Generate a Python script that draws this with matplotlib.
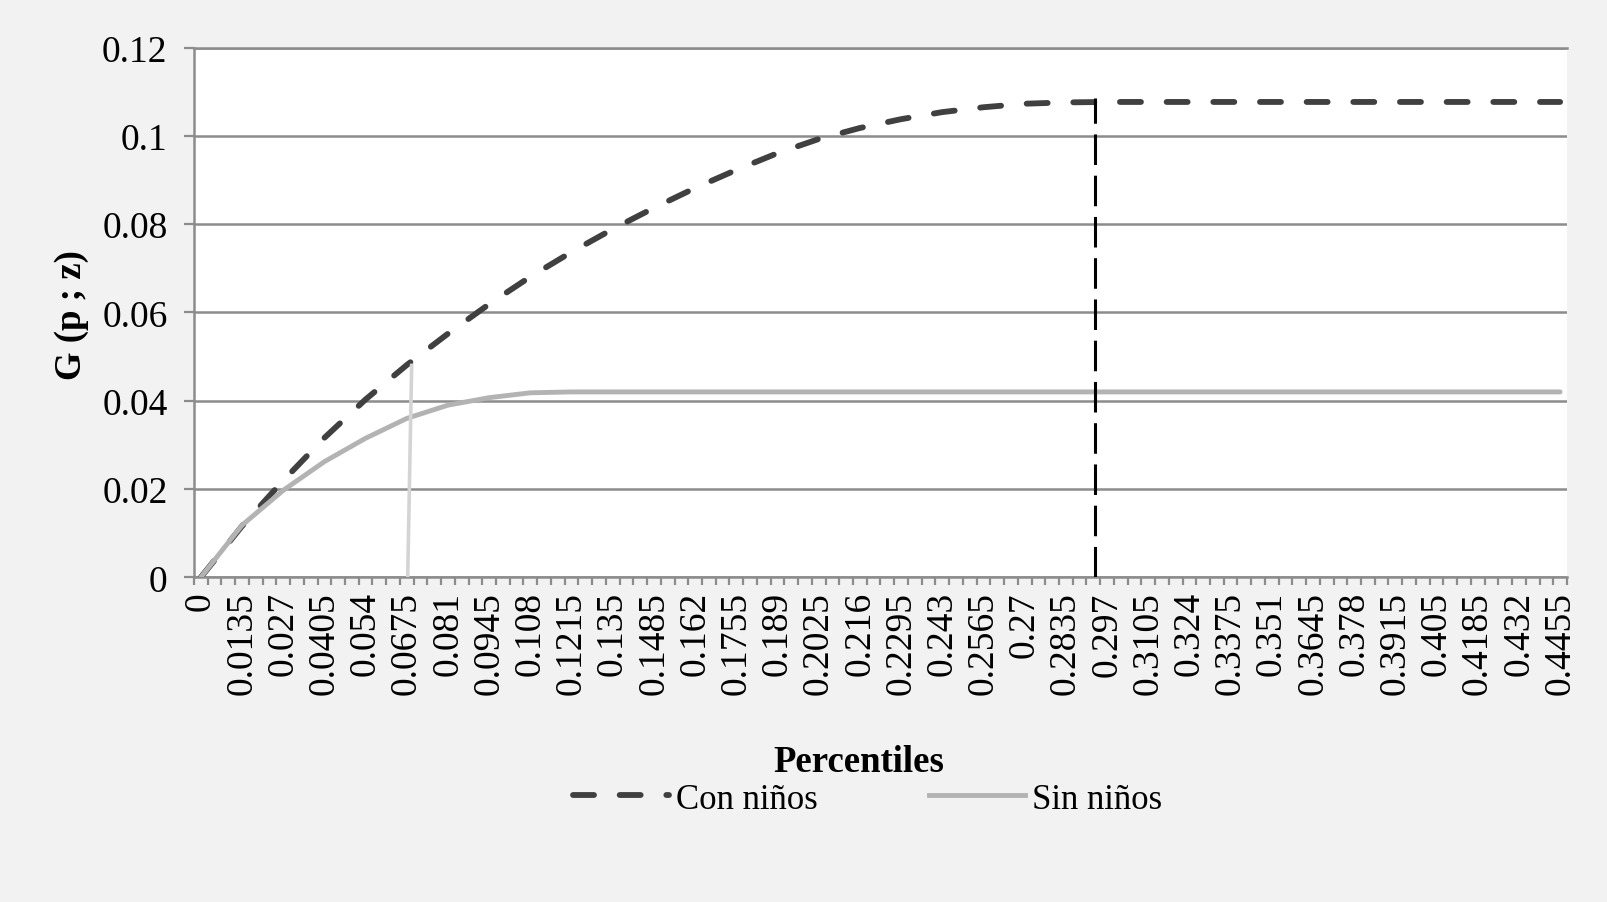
import numpy as np
import matplotlib

matplotlib.use("Agg")
import matplotlib.pyplot as plt
from matplotlib.lines import Line2D

plt.rcParams["font.family"] = ["Liberation Serif", "DejaVu Serif"]

# Percentiles etiquetados (cada 3 categorías de 0.0045) y valores G(p; z)
percentiles = [0, 0.0135, 0.027, 0.0405, 0.054, 0.0675, 0.081, 0.0945, 0.108,
               0.1215, 0.135, 0.1485, 0.162, 0.1755, 0.189, 0.2025, 0.216,
               0.2295, 0.243, 0.2565, 0.27, 0.2835, 0.297, 0.3105, 0.324,
               0.3375, 0.351, 0.3645, 0.378, 0.3915, 0.405, 0.4185, 0.432,
               0.4455]
etiquetas = ["0", "0.0135", "0.027", "0.0405", "0.054", "0.0675", "0.081",
             "0.0945", "0.108", "0.1215", "0.135", "0.1485", "0.162", "0.1755",
             "0.189", "0.2025", "0.216", "0.2295", "0.243", "0.2565", "0.27",
             "0.2835", "0.297", "0.3105", "0.324", "0.3375", "0.351", "0.3645",
             "0.378", "0.3915", "0.405", "0.4185", "0.432", "0.4455"]
con_ninos = [0, 0.0116, 0.0219, 0.0316, 0.0403, 0.0481, 0.0552, 0.0619,
             0.0681, 0.0737, 0.0789, 0.0837, 0.0882, 0.0923, 0.0961, 0.0993,
             0.1018, 0.1038, 0.1054, 0.1065, 0.1073, 0.1076, 0.1077, 0.1077,
             0.1077, 0.1077, 0.1077, 0.1077, 0.1077, 0.1077, 0.1077, 0.1077,
             0.1077, 0.1077]
sin_ninos = [0, 0.0118, 0.0197, 0.0262, 0.0315, 0.0360, 0.0390, 0.0407,
             0.0418, 0.0420, 0.0420, 0.0420, 0.0420, 0.0420, 0.0420, 0.0420,
             0.0420, 0.0420, 0.0420, 0.0420, 0.0420, 0.0420, 0.0420, 0.0420,
             0.0420, 0.0420, 0.0420, 0.0420, 0.0420, 0.0420, 0.0420, 0.0420,
             0.0420, 0.0420]
paso = 0.0045            # ancho de cada categoría del eje
n_cat = 100

# Líneas de corte (x en percentil, y en G)
corte_sin_x = [0.0678, 0.0691]
corte_sin_y = [0, 0.048]
corte_con_x = [0.293, 0.293]
corte_con_y = [0, 0.1085]

GRID = "#8c8c8c"
FS = 27
FS_T = 26.5
FS_LEG = 25

fig = plt.figure(figsize=(16.07, 9.03), dpi=100, facecolor="#f2f2f2")
ax = fig.add_axes([0.1207, 0.3596, 0.8544, 0.5865])
ax.set_facecolor("white")

ax.plot(percentiles, con_ninos, color="#404040", lw=4.2, dashes=(3.6, 4.4),
        dash_capstyle="round", zorder=3)
ax.plot(percentiles, sin_ninos, color="#b3b3b3", lw=3.5,
        solid_capstyle="round", zorder=4)
ax.plot(corte_sin_x, corte_sin_y, color="#d4d4d4", lw=2.6, zorder=5)
ax.plot(corte_con_x, corte_con_y, color="black", lw=2.2, dashes=(10, 3.5),
        zorder=6)

ax.set_xlim(-paso / 2, percentiles[-1] + paso / 2)
ax.set_ylim(0, 0.12)

ax.set_yticks(np.arange(0, 0.121, 0.02))
ax.set_yticklabels(["0", "0.02", "0.04", "0.06", "0.08", "0.1", "0.12"])
ax.yaxis.grid(True, color=GRID, lw=1.8)
ax.set_axisbelow(True)

ax.set_xticks(percentiles)
ax.set_xticklabels(etiquetas, rotation=90, va="top", ha="center")
ax.set_xticks(np.arange(n_cat + 1) * paso - paso / 2, minor=True)
ax.tick_params(axis="x", which="major", length=0, pad=10, labelsize=FS)
ax.tick_params(axis="x", which="minor", length=6, width=1.6, color=GRID,
               direction="out")
ax.tick_params(axis="y", which="major", length=7, width=1.6, color=GRID,
               pad=12, labelsize=FS)

for side in ("left", "bottom", "top"):
    ax.spines[side].set_color(GRID)
    ax.spines[side].set_linewidth(1.8)
ax.spines["right"].set_visible(False)

fig.text(0.0448, 0.651, "G (p ; z)", rotation=90, ha="center", va="center",
         fontsize=FS_T, fontweight="bold")
fig.text(0.5345, 0.156, "Percentiles", ha="center", va="center",
         fontsize=FS_T, fontweight="bold")

handles = [
    Line2D([], [], color="#404040", lw=4.2, dashes=(3.6, 4.4),
           dash_capstyle="round"),
    Line2D([], [], color="#b3b3b3", lw=3.5),
]
fig.legend(handles, ["Con niños", "Sin niños"], loc="center",
           bbox_to_anchor=(0.54, 0.114), ncol=2, frameon=False,
           handlelength=2.75, handletextpad=0.22, columnspacing=3.2,
           fontsize=FS_LEG)

fig.savefig("out.png", dpi=100, facecolor=fig.get_facecolor())
